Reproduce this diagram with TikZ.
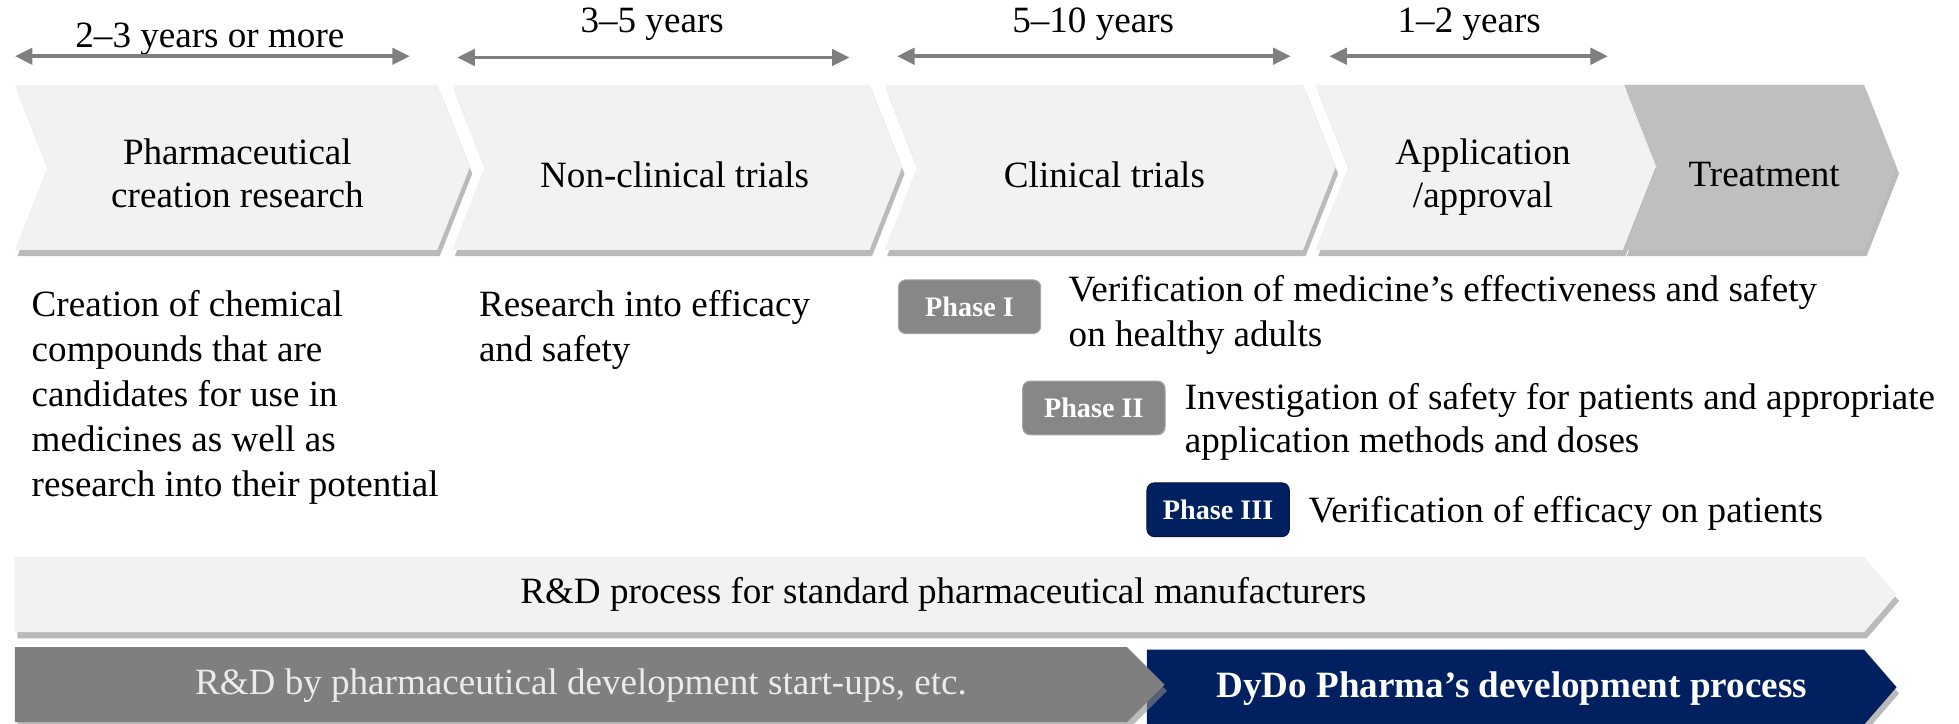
\documentclass[tikz,border=0pt]{standalone}
\usepackage{fontspec}
\setmainfont{Liberation Serif}
\usetikzlibrary{arrows.meta}
\definecolor{chev}{HTML}{F2F2F2}
\definecolor{treat}{HTML}{BFBFBF}
\definecolor{navy}{HTML}{002060}
\definecolor{midgray}{HTML}{7F7F7F}
\definecolor{phgray}{HTML}{878787}
\definecolor{shad}{HTML}{8C8C8C}
\newcommand\chevshape[4]{%
  \fill[sh] ({#1+2},73) -- ({#2+2},73) -- ({#2+28},139) -- ({#2+2},205) -- ({#1+2},205) -- ({#1+2+#3*26},139) -- cycle;
  \fill[#4] (#1,68) -- (#2,68) -- ({#2+26},134) -- (#2,200) -- (#1,200) -- ({#1+#3*26},134) -- cycle;}
\begin{document}
\begin{tikzpicture}[x=0.5pt,y=-0.5pt,
  font=\fontsize{14.85}{18}\selectfont,
  span/.style={{Triangle[length=7pt,width=6.5pt]}-{Triangle[length=7pt,width=6.5pt]}, line width=1.5pt, draw=midgray},
  lbl/.style={inner sep=0pt, anchor=base},
  body/.style={inner sep=0pt, anchor=base west, align=left},
  ctext/.style={inner sep=0pt, align=center},
  cbase/.style={inner sep=0pt, align=center, anchor=base, font=\fontsize{14.85}{17}\selectfont},
  phase/.style={rounded corners=3pt, minimum width=57pt, minimum height=21.5pt, inner sep=0pt, text=white, draw=black!35, line width=0.4pt, font=\fontsize{11.3}{13}\selectfont\bfseries},
  sh/.style={fill=shad, opacity=0.6}]
\useasboundingbox (0,0) rectangle (1568,579);
\fill[white] (0,0) rectangle (1568,579);

% top spans
\node[lbl] (t1) at (168,38) {2–3 years or more};
\node[lbl] (t2) at (522,26) {3–5 years};
\node[lbl] (t3) at (875,26) {5–10 years};
\node[lbl] (t4) at (1176,26) {1–2 years};
\coordinate (s1a) at (12,45);   \coordinate (s1b) at (328,45);
\coordinate (s2a) at (366,46);  \coordinate (s2b) at (680,46);
\coordinate (s3a) at (718,45);  \coordinate (s3b) at (1033,45);
\coordinate (s4a) at (1064,45); \coordinate (s4b) at (1287,45);
\draw[span] (s1a) -- (s1b);
\draw[span] (s2a) -- (s2b);
\draw[span] (s3a) -- (s3b);
\draw[span] (s4a) -- (s4b);

% chevrons
\chevshape{12}{350}{1}{chev}
\chevshape{362}{696}{1}{chev}
\chevshape{708}{1043}{1}{chev}
\chevshape{1053}{1299}{1}{chev}
\chevshape{1300}{1492}{1}{treat}
\node[cbase] (c1) at (190,166) {Pharmaceutical\\creation research};
\node[ctext] (c2) at (540,140) {Non-clinical trials};
\node[ctext] (c3) at (884,140) {Clinical trials};
\node[cbase] (c4) at (1187,166) {Application\\/approval};
\node[ctext] (c5) at (1412,140) {Treatment};

% descriptions
\node[body] (d1) at (25,397) {Creation of chemical\\compounds that are\\candidates for use in\\medicines as well as\\research into their potential};
\node[body] (d2) at (383,289) {Research into efficacy\\and safety};

% phases
\node[phase, fill=phgray] (p1) at (776,245.5) {Phase I};
\node[phase, fill=phgray] (p2) at (875.5,326.5) {Phase II};
\node[phase, fill=navy, draw=navy!70!black] (p3) at (975,408) {Phase III};
\node[body] (pt1) at (855,277) {Verification of medicine’s effectiveness and safety\\on healthy adults};
\node[body, font=\fontsize{14.85}{17}\selectfont] (pt2) at (948,362) {Investigation of safety for patients and appropriate\\application methods and doses};
\node[body] (pt3) at (1047,418) {Verification of efficacy on patients};

% long arrows
\fill[sh] (14,451) -- (1494,451) -- (1520,481) -- (1494,511) -- (14,511) -- cycle;
\fill[chev] (12,446) -- (1492,446) -- (1518,476) -- (1492,506) -- (12,506) -- cycle;
\node[ctext] (r1) at (755,476) {R\&D process for standard pharmaceutical manufacturers};

\fill[sh] (920,525) -- (1494,525) -- (1520,555) -- (1494,585) -- (920,585) -- cycle;
\fill[navy] (918,520) -- (1492,520) -- (1518,550) -- (1492,580) -- (918,580) -- cycle;
\fill[sh] (14,523) -- (904,523) -- (934,553) -- (904,583) -- (14,583) -- cycle;
\fill[midgray] (12,518) -- (902,518) -- (932,548) -- (902,578) -- (12,578) -- cycle;
\node[ctext, text=black!8] (r2) at (465,549) {R\&D by pharmaceutical development start-ups, etc.};
\node[ctext, text=white, font=\fontsize{14.85}{18}\selectfont\bfseries] (r3) at (1210,551) {DyDo Pharma’s development process};
\end{tikzpicture}
\end{document}
